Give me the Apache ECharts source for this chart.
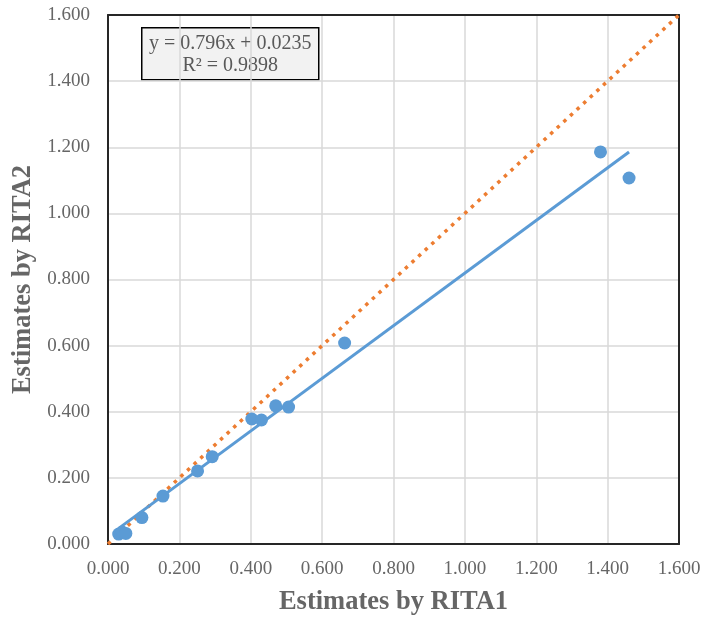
<!DOCTYPE html>
<html>
<head>
<meta charset="utf-8">
<script src="https://cdn.jsdelivr.net/npm/echarts@6/dist/echarts.min.js"></script>
<style>html,body{margin:0;padding:0;background:#fff}#c{width:703px;height:618px}</style>
</head>
<body>
<div id="c"></div>
<script>
// Data
var rita1 = [0.030, 0.040, 0.050, 0.095, 0.154, 0.251, 0.292, 0.403, 0.430, 0.470, 0.506, 0.663, 1.380, 1.460];
var rita2 = [0.030, 0.036, 0.032, 0.080, 0.145, 0.221, 0.264, 0.378, 0.375, 0.418, 0.414, 0.608, 1.186, 1.107];
var trendSlope = 0.796;
var trendIntercept = 0.0235;
var rSquared = 0.9898;
var identityX = [0, 1.6];
var axisTicks = [0, 0.2, 0.4, 0.6, 0.8, 1.0, 1.2, 1.4, 1.6];

var points = rita1.map(function (x, i) { return [x, rita2[i]]; });
var xMin = Math.min.apply(null, rita1), xMax = Math.max.apply(null, rita1);
var trend = [xMin, xMax].map(function (x) { return [x, trendSlope * x + trendIntercept]; });
var identity = identityX.map(function (x) { return [x, x]; });

var serif = '"Liberation Serif", "DejaVu Serif", serif';
var lo = axisTicks[0], hi = axisTicks[axisTicks.length - 1];
var borderAxisLine = { show: true, onZero: false, lineStyle: { color: '#262626', width: 2 } };
var chart = echarts.init(document.getElementById('c'), null, { renderer: 'canvas' });
chart.setOption({
  backgroundColor: '#ffffff',
  animation: false,
  grid: { left: 108, top: 15, width: 571, height: 529, containLabel: false, outerBoundsMode: 'none' },
  xAxis: [{
    type: 'value', min: lo, max: hi, interval: 0.2,
    name: 'Estimates by RITA1', nameLocation: 'middle', nameGap: 45,
    nameTextStyle: { fontFamily: serif, fontWeight: 'bold', fontSize: 26.5, color: '#666666' },
    axisLine: borderAxisLine,
    axisTick: { show: false },
    axisLabel: { fontFamily: serif, fontSize: 19, color: '#666666', margin: 16, formatter: function (v) { return v.toFixed(3); } },
    splitLine: { show: true, lineStyle: { color: '#d9d9d9', width: 1.5 } }
  }, {
    type: 'value', position: 'top', min: lo, max: hi, interval: 0.2,
    axisLine: borderAxisLine, axisTick: { show: false }, axisLabel: { show: false }, splitLine: { show: false }
  }],
  yAxis: [{
    type: 'value', min: lo, max: hi, interval: 0.2,
    name: 'Estimates by RITA2', nameLocation: 'middle', nameGap: 70,
    nameTextStyle: { fontFamily: serif, fontWeight: 'bold', fontSize: 26.5, color: '#666666' },
    axisLine: borderAxisLine,
    axisTick: { show: false },
    axisLabel: { fontFamily: serif, fontSize: 19, color: '#666666', margin: 18, formatter: function (v) { return v.toFixed(3); } },
    splitLine: { show: true, lineStyle: { color: '#d9d9d9', width: 1.5 } }
  }, {
    type: 'value', position: 'right', min: lo, max: hi, interval: 0.2,
    axisLine: borderAxisLine, axisTick: { show: false }, axisLabel: { show: false }, splitLine: { show: false }
  }],
  series: [
    {
      type: 'line', data: identity, showSymbol: false, symbol: 'none', z: 3,
      lineStyle: { color: '#ed7d31', width: 3.5, type: [3.5, 5.5], cap: 'butt' }
    },
    {
      type: 'line', data: trend, showSymbol: false, symbol: 'none', z: 4,
      lineStyle: { color: '#5b9bd5', width: 3 }
    },
    {
      type: 'scatter', data: points, symbol: 'circle', symbolSize: 13, z: 5,
      itemStyle: { color: '#5b9bd5', opacity: 1 }
    }
  ],
  graphic: [
    {
      type: 'group', left: 141, top: 27,
      children: [
        { type: 'rect', shape: { x: 0, y: 0, width: 177, height: 52 }, style: { fill: '#f2f2f2', stroke: '#000000', lineWidth: 1.5 } },
        { type: 'text', x: 88.5, y: 16, style: { text: 'y = ' + trendSlope + 'x + ' + trendIntercept, fontFamily: serif, fontSize: 20, fill: '#595959', align: 'center', verticalAlign: 'middle' } },
        { type: 'text', x: 88.5, y: 38, style: { text: 'R² = ' + rSquared, fontFamily: serif, fontSize: 20, fill: '#595959', align: 'center', verticalAlign: 'middle' } }
      ]
    }
  ]
});
</script>
</body>
</html>
